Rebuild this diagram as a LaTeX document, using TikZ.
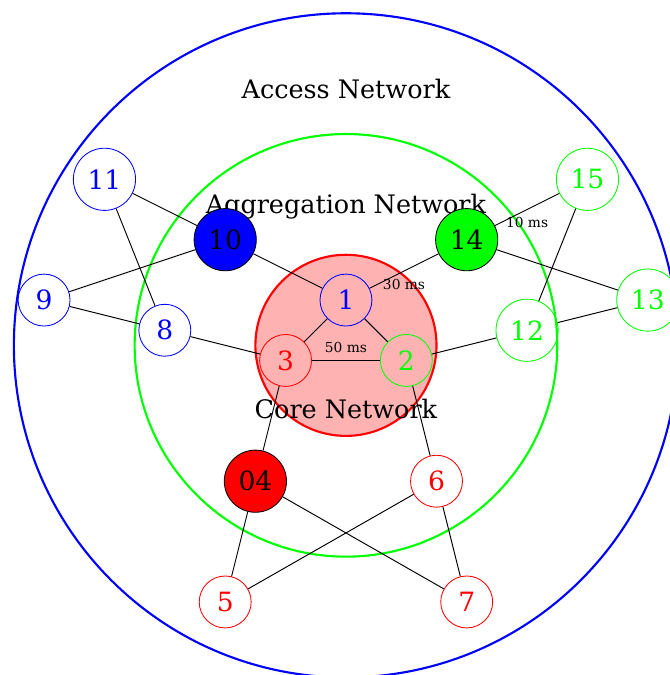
\documentclass[tikz,border=0pt]{standalone}
\usepackage{fontspec}
\setmainfont{DejaVu Serif}
\begin{document}
\begin{tikzpicture}[
  net/.style={circle,draw,inner sep=0pt,minimum size=0.86cm,font=\fontsize{12.5}{14}\selectfont},
  big/.style={minimum size=1.03cm},
  lnk/.style={line width=0.45pt},
  lbl/.style={font=\fontsize{6.5}{7.5}\selectfont,inner sep=3.5pt},
  title/.style={font=\fontsize{12}{15}\selectfont}
]
\useasboundingbox (-5.73,-6.21) rectangle (5.36,4.97);
\draw[blue,line width=1pt] (0,-0.75) circle (5.5);
\draw[green,line width=1pt] (0,-0.75) circle (3.5);
\draw[red,fill=red!30,line width=1pt] (0,-0.75) circle (1.5);
\node[title] (acc) at (0,3.5) {Access Network};
\node[title] (agg) at (0,1.55) {Aggregation Network};
\node[title] (core) at (0,-1.8) {Core Network};
% core
\node[net,blue] (n1) at (0,0) {1};
\node[net,green] (n2) at (1,-1) {2};
\node[net,red] (n3) at (-1,-1) {3};
% aggregation
\node[net,big,fill=blue,draw=black] (n10) at (-2,1) {10};
\node[net,big,fill=green,draw=black] (n14) at (2,1) {14};
\node[net,big,fill=red,draw=black] (n04) at (-1.5,-3) {04};
\node[net,red] (n6) at (1.5,-3) {6};
% access
\node[net,big,blue] (n11) at (-4,2) {11};
\node[net,blue] (n9) at (-5,0) {9};
\node[net,blue] (n8) at (-3,-0.5) {8};
\node[net,big,green] (n15) at (4,2) {15};
\node[net,big,green] (n13) at (5,0) {13};
\node[net,big,green] (n12) at (3,-0.5) {12};
\node[net,red] (n5) at (-2,-5) {5};
\node[net,red] (n7) at (2,-5) {7};
% links
\draw[lnk] (n10) -- (n1);
\draw[lnk] (n1) -- node[lbl,below] (l30) {30 ms} (n14);
\draw[lnk] (n1) -- (n3);
\draw[lnk] (n1) -- (n2);
\draw[lnk] (n3) -- node[lbl,above] (l50) {50 ms} (n2);
\draw[lnk] (n10) -- (n11);
\draw[lnk] (n10) -- (n9);
\draw[lnk] (n9) -- (n8);
\draw[lnk] (n11) -- (n8);
\draw[lnk] (n8) -- (n3);
\draw[lnk] (n14) -- node[lbl,below] (l10) {10 ms} (n15);
\draw[lnk] (n14) -- (n13);
\draw[lnk] (n13) -- (n12);
\draw[lnk] (n15) -- (n12);
\draw[lnk] (n12) -- (n2);
\draw[lnk] (n3) -- (n04);
\draw[lnk] (n2) -- (n6);
\draw[lnk] (n04) -- (n5);
\draw[lnk] (n04) -- (n7);
\draw[lnk] (n6) -- (n5);
\draw[lnk] (n6) -- (n7);
\end{tikzpicture}
\end{document}
